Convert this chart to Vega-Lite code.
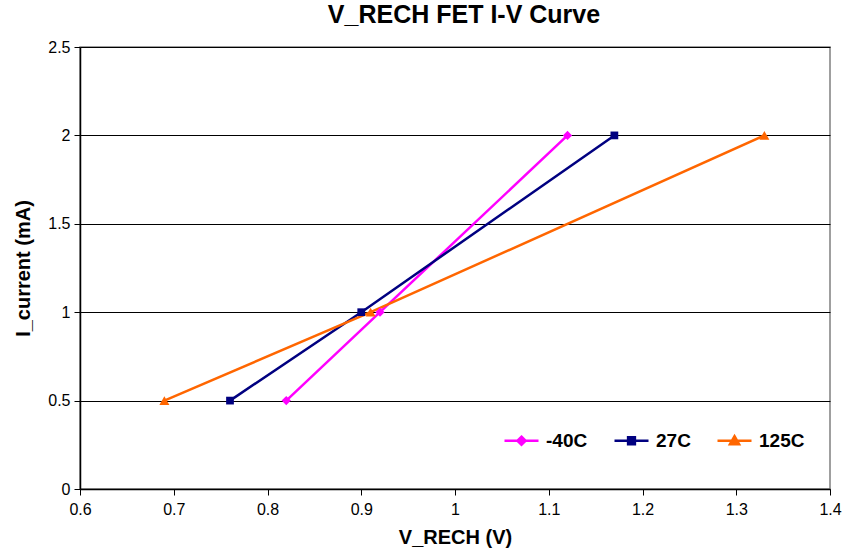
{
  "$schema": "https://vega.github.io/schema/vega-lite/v6.json",
  "width": 750,
  "height": 442,
  "autosize": "none",
  "padding": {"left": 80, "top": 47, "right": 14, "bottom": 71},
  "background": "white",
  "title": {
    "text": "V_RECH FET I-V Curve",
    "font": "Liberation Sans",
    "fontSize": 25,
    "fontWeight": "bold",
    "color": "black",
    "offset": 11,
    "dx": 9
  },
  "config": {
    "view": {"stroke": "#808080", "strokeWidth": 1.5},
    "font": "Liberation Sans"
  },
  "data": {
    "values": [
      {"series": "-40C", "v": 0.82, "i": 0.5},
      {"series": "-40C", "v": 0.92, "i": 1.0},
      {"series": "-40C", "v": 1.12, "i": 2.0},
      {"series": "27C", "v": 0.76, "i": 0.5},
      {"series": "27C", "v": 0.90, "i": 1.0},
      {"series": "27C", "v": 1.17, "i": 2.0},
      {"series": "125C", "v": 0.69, "i": 0.5},
      {"series": "125C", "v": 0.91, "i": 1.0},
      {"series": "125C", "v": 1.33, "i": 2.0}
    ]
  },
  "encoding": {
    "x": {
      "field": "v",
      "type": "quantitative",
      "scale": {"domain": [0.6, 1.4], "nice": false, "zero": false},
      "axis": {
        "title": "V_RECH (V)",
        "titleFont": "Liberation Sans",
        "titleFontSize": 20,
        "titleFontWeight": "bold",
        "titleColor": "black",
        "titlePadding": 10,
        "values": [0.6, 0.7, 0.8, 0.9, 1.0, 1.1, 1.2, 1.3, 1.4],
        "format": "~g",
        "labelFont": "Liberation Sans",
        "labelFontSize": 16,
        "labelColor": "black",
        "labelPadding": 6,
        "labelFlush": false,
        "labelOverlap": false,
        "grid": false,
        "domainColor": "black",
        "domainWidth": 1.5,
        "tickColor": "black",
        "tickSize": 6
      }
    },
    "y": {
      "field": "i",
      "type": "quantitative",
      "scale": {"domain": [0, 2.5], "nice": false},
      "axis": {
        "title": "I_current (mA)",
        "titleFont": "Liberation Sans",
        "titleFontSize": 20,
        "titleFontWeight": "bold",
        "titleColor": "black",
        "titlePadding": 14,
        "values": [0, 0.5, 1, 1.5, 2, 2.5],
        "format": "~g",
        "labelFont": "Liberation Sans",
        "labelFontSize": 16,
        "labelColor": "black",
        "labelPadding": 4,
        "labelFlush": false,
        "grid": true,
        "gridColor": "black",
        "gridWidth": 1,
        "domainColor": "black",
        "domainWidth": 1.5,
        "tickColor": "black",
        "tickSize": 6
      }
    },
    "color": {
      "field": "series",
      "type": "nominal",
      "scale": {
        "domain": ["-40C", "27C", "125C"],
        "range": ["#FF00FF", "#000080", "#FF6600"]
      },
      "legend": {
        "title": null,
        "orient": "none",
        "direction": "horizontal",
        "legendX": 423,
        "legendY": 375,
        "symbolSize": 1156,
        "symbolStrokeWidth": 2.5,
        "labelFont": "Liberation Sans",
        "labelFontSize": 19,
        "labelFontWeight": "bold",
        "labelColor": "black",
        "labelOffset": 6,
        "columnPadding": 21,
        "encode": {
          "symbols": {
            "update": {
              "shape": {"signal": "datum.value === '-40C' ? 'M-1,0L1,0M0,-0.24L0.24,0L0,0.24L-0.24,0Z' : datum.value === '27C' ? 'M-1,0L1,0M-0.2,-0.2L0.2,-0.2L0.2,0.2L-0.2,0.2Z' : 'M-1,0L1,0M0,-0.27L0.27,0.2L-0.27,0.2Z'"},
              "fill": {"signal": "scale('color', datum.value)"},
              "stroke": {"signal": "scale('color', datum.value)"},
              "strokeWidth": {"value": 2.5},
              "opacity": {"value": 1}
            }
          }
        }
      }
    }
  },
  "layer": [
    {
      "mark": {"type": "line", "strokeWidth": 2.5},
      "encoding": {"detail": {"field": "series"}}
    },
    {
      "transform": [{"filter": "datum.series === '-40C'"}],
      "mark": {"type": "point", "shape": "diamond", "filled": true, "size": 85, "opacity": 1}
    },
    {
      "transform": [{"filter": "datum.series === '27C'"}],
      "mark": {"type": "point", "shape": "square", "filled": true, "size": 60, "opacity": 1}
    },
    {
      "transform": [{"filter": "datum.series === '125C'"}],
      "mark": {"type": "point", "shape": "triangle-up", "filled": true, "size": 100, "opacity": 1}
    }
  ]
}
